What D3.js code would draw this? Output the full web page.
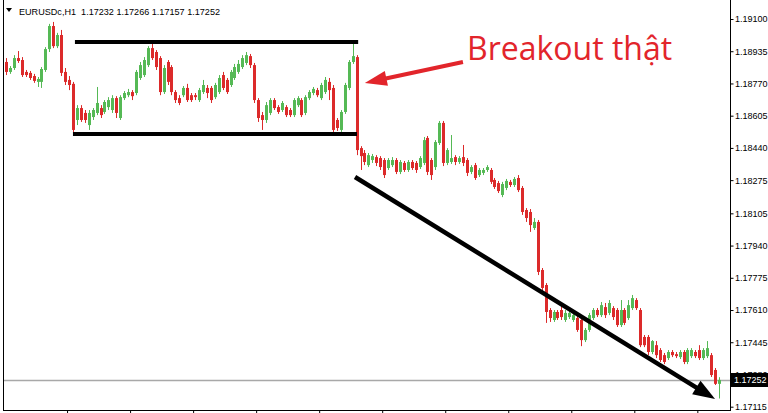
<!DOCTYPE html>
<html><head><meta charset="utf-8">
<script src="https://cdn.jsdelivr.net/npm/d3@7"></script>
<style>html,body{margin:0;padding:0;background:#fff;overflow:hidden}</style>
</head><body>
<svg id="c" width="768" height="413"></svg>
<script>
const symbol = "EURUSDc,H1";
const lastOHLC = [1.17232, 1.17266, 1.17157, 1.17252];
const currentPrice = 1.17252;
const calloutText = "Breakout thật";

const openP = [
1.18880,1.18829,1.18849,1.18900,1.18890,1.18829,1.18824,1.18808,1.18778,1.18778,
1.18839,1.18946,1.19064,1.18961,1.19018,1.18829,1.18788,1.18768,1.18583,1.18644,
1.18619,1.18557,1.18598,1.18619,1.18644,1.18624,1.18649,1.18634,1.18695,1.18593,
1.18695,1.18710,1.18726,1.18721,1.18798,1.18813,1.18864,1.18951,1.18931,1.18900,
1.18726,1.18880,1.18854,1.18726,1.18695,1.18710,1.18747,1.18710,1.18710,1.18685,
1.18726,1.18747,1.18747,1.18700,1.18726,1.18813,1.18788,1.18762,1.18798,1.18829,
1.18854,1.18875,1.18910,1.18864,1.18685,1.18608,1.18583,1.18619,1.18685,1.18649,
1.18634,1.18649,1.18634,1.18608,1.18659,1.18685,1.18619,1.18695,1.18721,1.18736,
1.18695,1.18726,1.18778,1.18747,1.18583,1.18532,1.18624,1.18747,1.18880,
1.18905,1.18439,1.18414,1.18352,1.18378,1.18393,1.18388,1.18378,1.18337,1.18352,
1.18378,1.18317,1.18363,1.18327,1.18368,1.18363,1.18342,1.18363,1.18491,1.18378,
1.18342,1.18465,1.18568,1.18363,1.18368,1.18393,1.18368,1.18393,1.18378,1.18317,
1.18352,1.18301,1.18312,1.18327,1.18327,1.18276,1.18260,1.18199,1.18235,1.18266,
1.18250,1.18286,1.18235,1.18122,1.18112,1.18030,1.18061,1.17815,1.17738,1.17610,
1.17559,1.17600,1.17610,1.17559,1.17574,1.17559,1.17569,1.17559,1.17456,1.17508,
1.17569,1.17610,1.17584,1.17625,1.17595,1.17620,1.17610,1.17533,1.17610,1.17569,
1.17620,1.17661,1.17610,1.17472,1.17472,1.17395,1.17430,1.17405,1.17379,1.17364,
1.17395,1.17384,1.17369,1.17395,1.17344,1.17374,1.17395,1.17405,1.17364,1.17374,
1.17379,1.17303,1.17232];

const highP = [
1.18900,1.18859,1.18915,1.18936,1.18905,1.18839,1.18834,1.18819,1.18803,1.18854,
1.18956,1.19075,1.19085,1.19029,1.19044,1.18849,1.18808,1.18778,1.18659,1.18659,
1.18634,1.18634,1.18644,1.18752,1.18659,1.18685,1.18700,1.18710,1.18705,1.18710,
1.18731,1.18742,1.18736,1.18839,1.18880,1.18905,1.18961,1.18972,1.18941,1.18910,
1.18864,1.18890,1.18864,1.18736,1.18710,1.18757,1.18768,1.18721,1.18721,1.18747,
1.18788,1.18762,1.18757,1.18773,1.18813,1.18829,1.18798,1.18839,1.18870,1.18890,
1.18915,1.18931,1.18921,1.18875,1.18695,1.18624,1.18675,1.18695,1.18695,1.18659,
1.18680,1.18659,1.18644,1.18695,1.18705,1.18695,1.18710,1.18736,1.18752,1.18747,
1.18773,1.18803,1.18798,1.18762,1.18593,1.18634,1.18773,1.18890,1.18982,
1.18915,1.18449,1.18429,1.18414,1.18409,1.18403,1.18398,1.18388,1.18388,1.18393,
1.18388,1.18378,1.18373,1.18378,1.18378,1.18373,1.18398,1.18496,1.18501,1.18388,
1.18480,1.18578,1.18578,1.18439,1.18506,1.18403,1.18398,1.18455,1.18388,1.18352,
1.18363,1.18337,1.18337,1.18352,1.18337,1.18286,1.18271,1.18266,1.18281,1.18276,
1.18291,1.18301,1.18245,1.18132,1.18127,1.18081,1.18071,1.17825,1.17748,1.17620,
1.17610,1.17610,1.17630,1.17610,1.17610,1.17600,1.17579,1.17569,1.17518,1.17595,
1.17620,1.17620,1.17651,1.17646,1.17661,1.17630,1.17620,1.17661,1.17620,1.17661,
1.17687,1.17671,1.17620,1.17482,1.17482,1.17456,1.17451,1.17415,1.17390,1.17405,
1.17405,1.17395,1.17405,1.17405,1.17415,1.17415,1.17405,1.17430,1.17415,1.17451,
1.17390,1.17313,1.17266];

const lowP = [
1.18813,1.18819,1.18839,1.18875,1.18803,1.18803,1.18788,1.18773,1.18752,1.18747,
1.18829,1.18931,1.18951,1.18951,1.18808,1.18762,1.18736,1.18517,1.18557,1.18573,
1.18568,1.18532,1.18583,1.18608,1.18593,1.18614,1.18634,1.18619,1.18593,1.18583,
1.18685,1.18700,1.18685,1.18710,1.18788,1.18803,1.18854,1.18890,1.18839,1.18710,
1.18716,1.18762,1.18710,1.18670,1.18659,1.18700,1.18675,1.18675,1.18685,1.18675,
1.18716,1.18695,1.18670,1.18690,1.18716,1.18736,1.18716,1.18752,1.18788,1.18819,
1.18844,1.18864,1.18849,1.18670,1.18573,1.18532,1.18568,1.18608,1.18634,1.18614,
1.18624,1.18598,1.18598,1.18598,1.18649,1.18598,1.18608,1.18685,1.18710,1.18700,
1.18685,1.18716,1.18685,1.18517,1.18527,1.18522,1.18614,1.18736,1.18870,
1.18403,1.18327,1.18352,1.18342,1.18363,1.18347,1.18327,1.18286,1.18327,1.18342,
1.18306,1.18306,1.18317,1.18317,1.18327,1.18312,1.18332,1.18352,1.18301,1.18276,
1.18327,1.18455,1.18347,1.18352,1.18358,1.18352,1.18358,1.18347,1.18296,1.18306,
1.18276,1.18291,1.18301,1.18317,1.18255,1.18230,1.18209,1.18188,1.18224,1.18240,
1.18240,1.18214,1.18097,1.18061,1.18010,1.18020,1.17789,1.17702,1.17544,1.17549,
1.17549,1.17559,1.17559,1.17549,1.17564,1.17549,1.17498,1.17425,1.17446,1.17498,
1.17559,1.17574,1.17574,1.17569,1.17584,1.17559,1.17523,1.17523,1.17533,1.17559,
1.17610,1.17610,1.17420,1.17420,1.17379,1.17384,1.17364,1.17344,1.17333,1.17354,
1.17369,1.17364,1.17359,1.17333,1.17333,1.17364,1.17364,1.17354,1.17354,1.17364,
1.17267,1.17226,1.17157];

const closeP = [
1.18829,1.18849,1.18900,1.18885,1.18813,1.18813,1.18798,1.18783,1.18793,1.18844,
1.18946,1.19064,1.18961,1.19018,1.18824,1.18778,1.18762,1.18532,1.18644,1.18583,
1.18583,1.18619,1.18634,1.18670,1.18608,1.18675,1.18685,1.18695,1.18619,1.18700,
1.18721,1.18726,1.18705,1.18829,1.18864,1.18890,1.18951,1.18900,1.18854,1.18726,
1.18849,1.18778,1.18726,1.18685,1.18670,1.18747,1.18685,1.18685,1.18700,1.18736,
1.18762,1.18721,1.18685,1.18762,1.18798,1.18747,1.18726,1.18829,1.18854,1.18870,
1.18900,1.18915,1.18864,1.18685,1.18593,1.18583,1.18659,1.18685,1.18644,1.18624,
1.18670,1.18608,1.18608,1.18685,1.18695,1.18608,1.18700,1.18726,1.18742,1.18710,
1.18762,1.18788,1.18736,1.18532,1.18542,1.18624,1.18762,1.18880,1.18910,
1.18429,1.18398,1.18368,1.18403,1.18398,1.18363,1.18342,1.18301,1.18378,1.18378,
1.18317,1.18368,1.18327,1.18368,1.18337,1.18327,1.18388,1.18480,1.18317,1.18301,
1.18470,1.18568,1.18363,1.18429,1.18388,1.18368,1.18388,1.18363,1.18312,1.18342,
1.18286,1.18327,1.18327,1.18342,1.18266,1.18240,1.18219,1.18255,1.18271,1.18250,
1.18281,1.18224,1.18112,1.18081,1.18045,1.18061,1.17805,1.17723,1.17600,1.17569,
1.17600,1.17569,1.17574,1.17595,1.17595,1.17584,1.17508,1.17456,1.17508,1.17584,
1.17610,1.17584,1.17635,1.17584,1.17646,1.17574,1.17533,1.17610,1.17544,1.17635,
1.17671,1.17620,1.17430,1.17430,1.17395,1.17451,1.17379,1.17354,1.17344,1.17395,
1.17379,1.17374,1.17395,1.17344,1.17405,1.17405,1.17374,1.17364,1.17405,1.17415,
1.17277,1.17232,1.17252];

const priceTicks = [1.19100,1.18935,1.18770,1.18605,1.18440,1.18275,1.18105,1.17940,1.17775,1.17610,1.17445,1.17280,1.17115];
const timeTickBars = [16,32,48,64,80,96,112,128,144,160,176];

// annotations in data units (bar index, price)
const rangeTop = [17.5, 89.4, 1.18982];
const rangeBottom = [17.0, 89.1, 1.18511];
const trendArrow = [88.6, 1.18291, 180.0, 1.17154];
const calloutArrow = [116.0, 1.18880, 91.1, 1.18772];

const n = openP.length;
const svg = d3.select("#c");
const x = d3.scaleLinear().domain([0, n - 1]).range([6, 719]);
const y = d3.scaleLinear().domain([1.17115, 1.19100]).range([406.7, 19]);

const GREEN = "#55b955", RED = "#dc2a2a";
const FONT = "'Liberation Sans', Arial, sans-serif";

// current price line
svg.append("line").attr("x1", 3).attr("x2", 730).attr("y1", Math.round(y(currentPrice)) + 0.5).attr("y2", Math.round(y(currentPrice)) + 0.5)
  .attr("stroke", "#a8a8a8").attr("stroke-width", 1.5);

// candles
const bars = d3.range(n).map(i => ({i, o: openP[i], h: highP[i], l: lowP[i], c: closeP[i]}));
const cg = svg.append("g");
cg.selectAll("line.w").data(bars).join("line").attr("class", "w")
  .attr("x1", d => Math.round(x(d.i)) + 0.5).attr("x2", d => Math.round(x(d.i)) + 0.5)
  .attr("y1", d => y(d.h)).attr("y2", d => y(d.l))
  .attr("stroke", d => d.c >= d.o ? GREEN : RED).attr("stroke-width", 1);
cg.selectAll("rect").data(bars).join("rect")
  .attr("x", d => Math.round(x(d.i)) - 1).attr("width", 3)
  .attr("y", d => y(Math.max(d.o, d.c)))
  .attr("height", d => Math.max(1, y(Math.min(d.o, d.c)) - y(Math.max(d.o, d.c))))
  .attr("fill", d => d.c >= d.o ? GREEN : RED);

// frame
svg.append("line").attr("x1", 3.5).attr("x2", 3.5).attr("y1", 0).attr("y2", 410).attr("stroke", "#000");
svg.append("line").attr("x1", 3).attr("x2", 731).attr("y1", 410.5).attr("y2", 410.5).attr("stroke", "#000");
svg.append("line").attr("x1", 730.5).attr("x2", 730.5).attr("y1", 0).attr("y2", 411).attr("stroke", "#000");

// right price axis
const ya = d3.axisRight(y).tickValues(priceTicks).tickSize(3).tickPadding(1.5).tickFormat(d3.format(".5f"));
const yg = svg.append("g").attr("transform", "translate(730.5,0)").call(ya);
yg.select(".domain").remove();
yg.selectAll("text").attr("font-family", FONT).attr("font-size", "9px").attr("fill", "#000");
yg.selectAll("line").attr("stroke", "#000");

// time ticks
const xa = d3.axisBottom(x).tickValues(timeTickBars.map(b => b - 0.5)).tickSize(3).tickFormat("");
const xg = svg.append("g").attr("transform", "translate(0,410.5)").call(xa);
xg.select(".domain").remove();
xg.selectAll("line").attr("stroke", "#000");

// current price label
const cy = y(currentPrice);
svg.append("rect").attr("x", 731).attr("y", Math.round(cy) - 7).attr("width", 37).attr("height", 14).attr("fill", "#000");
svg.append("text").attr("x", 734).attr("y", cy).attr("dy", "0.35em").attr("fill", "#fff")
  .attr("font-family", FONT).attr("font-size", "9px").text(d3.format(".5f")(currentPrice));

// header
svg.append("path").attr("d", "M6,8L12,8L9,12Z").attr("fill", "#000");
svg.append("text").attr("x", 19).attr("y", 14.5).attr("font-family", FONT).attr("font-size", "9px").attr("fill", "#000")
  .attr("xml:space", "preserve").style("white-space", "pre")
  .attr("textLength", 201).attr("lengthAdjust", "spacingAndGlyphs")
  .text(symbol + "  " + lastOHLC.map(d3.format(".5f")).join(" "));

// annotations
const ag = svg.append("g");
ag.append("line").attr("x1", x(rangeTop[0])).attr("x2", x(rangeTop[1])).attr("y1", y(rangeTop[2])).attr("y2", y(rangeTop[2]))
  .attr("stroke", "#000").attr("stroke-width", 4);
ag.append("line").attr("x1", x(rangeBottom[0])).attr("x2", x(rangeBottom[1])).attr("y1", y(rangeBottom[2])).attr("y2", y(rangeBottom[2]))
  .attr("stroke", "#000").attr("stroke-width", 4);

function arrow(a, color, w, headLen, headHalf) {
  const x0 = x(a[0]), y0 = y(a[1]), x1 = x(a[2]), y1 = y(a[3]);
  const dx = x1 - x0, dy = y1 - y0, L = Math.hypot(dx, dy), ux = dx / L, uy = dy / L;
  const bx = x1 - ux * headLen, by = y1 - uy * headLen;
  ag.append("line").attr("x1", x0).attr("y1", y0).attr("x2", bx + ux * 3).attr("y2", by + uy * 3)
    .attr("stroke", color).attr("stroke-width", w);
  ag.append("path").attr("d", `M${x1},${y1}L${bx - uy * headHalf},${by + ux * headHalf}L${bx + uy * headHalf},${by - ux * headHalf}Z`)
    .attr("fill", color);
}
arrow(trendArrow, "#000", 4.5, 22, 8);
arrow(calloutArrow, "#e2252b", 4, 22, 7.5);

svg.append("text").attr("x", 467).attr("y", 60).attr("font-family", "'Open Sans', 'Noto Sans', sans-serif")
  .attr("font-size", "32px").attr("fill", "#e2252b").text(calloutText);
</script>
</body></html>
